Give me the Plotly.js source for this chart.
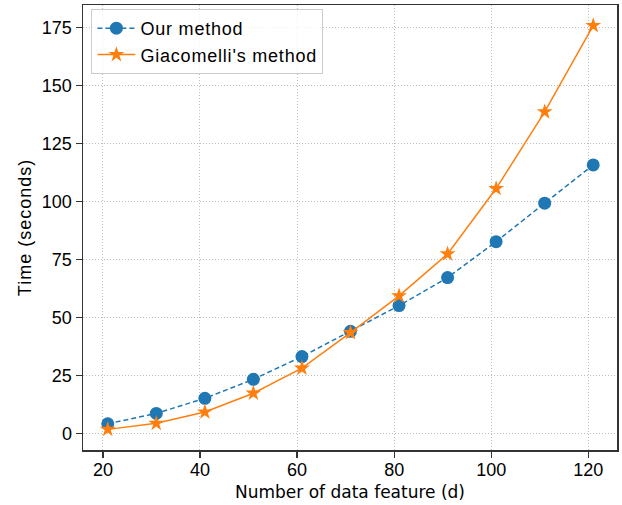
<!DOCTYPE html>
<html>
<head>
<meta charset="utf-8">
<script src="https://cdn.plot.ly/plotly-3.0.1.min.js"></script>
<style>
html, body { margin: 0; padding: 0; background: #fff; }
#chart { width: 622px; height: 505px; }
.legendtext { letter-spacing: 0.8px; }
.ytitle { letter-spacing: 1px; }
</style>
</head>
<body>
<div id="chart"></div>
<script>
const features = [21, 31, 41, 51, 61, 71, 81, 91, 101, 111, 121];
const ourMethod = [4.1, 8.6, 15.1, 23.3, 33.1, 44.0, 55.1, 67.2, 82.7, 99.3, 115.8];
const giacomelliMethod = [1.7, 4.3, 9.2, 17.3, 28.1, 43.4, 59.3, 77.4, 105.6, 138.7, 175.9];
const seriesNames = ["Our method", "Giacomelli's method"];
const xTicks = [20, 40, 60, 80, 100, 120];
const yTicks = [0, 25, 50, 75, 100, 125, 150, 175];

const tickFont = { family: "Liberation Sans, Arial, sans-serif", size: 18, color: "#000" };

const traces = [
  {
    x: features, y: ourMethod, name: seriesNames[0],
    type: "scatter", mode: "lines+markers",
    line: { color: "#1f77b4", width: 1.5, dash: "5px,3px" },
    marker: { color: "#1f77b4", size: 13, symbol: "circle" }
  },
  {
    x: features, y: giacomelliMethod, name: seriesNames[1],
    type: "scatter", mode: "lines+markers",
    line: { color: "#ff7f0e", width: 1.5 },
    marker: { color: "#ff7f0e", size: 12, symbol: "star" }
  }
];

const gridStyle = { showgrid: true, gridcolor: "#bdbdbd", griddash: "1px,2px", gridwidth: 1 };

const layout = {
  width: 622, height: 505,
  margin: { l: 83, r: 5, t: 5, b: 55 },
  paper_bgcolor: "#fff", plot_bgcolor: "#fff",
  showlegend: true,
  legend: {
    x: 0.0157, y: 0.991, xanchor: "left", yanchor: "top",
    bgcolor: "rgba(255,255,255,0.8)", bordercolor: "#cccccc", borderwidth: 1,
    font: { family: "Liberation Sans, Arial, sans-serif", size: 18, color: "#000" },
    itemwidth: 38, tracegroupgap: 0
  },
  xaxis: Object.assign({
    range: [15.9, 125.9], tickvals: xTicks, ticktext: xTicks.map(String),
    zeroline: false, showline: true, mirror: true, linecolor: "#333", linewidth: 1.5,
    ticks: "outside", ticklen: 6, tickwidth: 1.2, tickcolor: "#333",
    tickfont: tickFont, ticklabelstandoff: -3,
    title: { text: "Number of data feature (d)", font: { family: "DejaVu Sans, sans-serif", size: 17, color: "#000" }, standoff: 7 },
    automargin: false
  }, gridStyle),
  yaxis: Object.assign({
    range: [-7.2, 184.8], tickvals: yTicks, ticktext: yTicks.map(String),
    zeroline: false, showline: true, mirror: true, linecolor: "#333", linewidth: 1.5,
    ticks: "outside", ticklen: 6, tickwidth: 1.2, tickcolor: "#333",
    tickfont: tickFont,
    title: { text: "Time (seconds)", font: { family: "Liberation Sans, Arial, sans-serif", size: 18, color: "#000" }, standoff: 5 },
    automargin: false
  }, gridStyle)
};

Plotly.newPlot("chart", traces, layout, { displayModeBar: false, staticPlot: true });
</script>
</body>
</html>
